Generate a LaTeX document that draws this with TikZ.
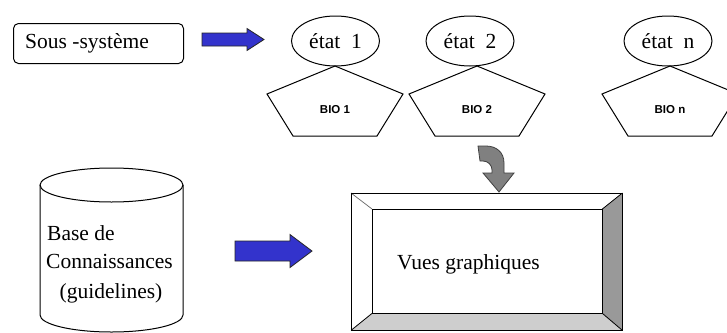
\documentclass[tikz,border=0pt]{standalone}
\usepackage{fontspec}
\setmainfont{Liberation Serif}
\newfontfamily\biofont{Liberation Sans}
\usetikzlibrary{shapes.geometric,calc}
\definecolor{arrowblue}{RGB}{51,51,204}
\definecolor{arrowgray}{RGB}{128,128,128}
\definecolor{bevelright}{RGB}{153,153,153}
\definecolor{bevelbottom}{RGB}{206,206,206}
\begin{document}
\begin{tikzpicture}[x=1pt,y=-1pt, line join=miter,
  txt/.style={font=\fontsize{21.5}{24}\selectfont, inner sep=0pt},
  state/.style={ellipse, draw, line width=1pt, minimum width=88pt, minimum height=50pt, inner sep=0pt, font=\fontsize{21.5}{24}\selectfont},
  penta/.style={draw, line width=1pt, fill=white},
  bio/.style={font=\biofont\bfseries\fontsize{11.5}{13}\selectfont, inner sep=0pt},
  blockarrow/.style={fill=arrowblue, draw=black!85, line width=0.8pt},
  bendarrow/.style={fill=arrowgray, draw=black!75, line width=0.8pt},
  frame/.style={draw, line width=1pt},
]
\useasboundingbox (0,0) rectangle (727,332);
\fill[white] (0,0) rectangle (727,332);

% Sous-systeme box
\node[draw, rounded corners=5pt, line width=1pt, minimum width=170pt, minimum height=40pt, anchor=north west, inner sep=0pt] (sous) at (13,23) {};
\node[txt, anchor=west] (soustxt) at (25,43) {Sous -syst\`eme};

% blue arrow 1
\coordinate (a1s) at (202,39.5);
\coordinate (a1e) at (264,39.5);
\draw[blockarrow] ($(a1s)+(0,-6.5)$) -- (247,33) -- (247,28.5) -- (a1e) -- (247,50.5) -- (247,46) -- ($(a1s)+(0,6.5)$) -- cycle;

% pentagons
\foreach \cx/\nm in {335/p1, 477/p2, 670/pn}{
  \draw[penta] (\cx,66) -- (\cx+68,94) -- (\cx+42,136) -- (\cx-42,136) -- (\cx-68,94) -- cycle;
}
\node[bio] (bio1) at (335,110) {BIO 1};
\node[bio] (bio2) at (477,110) {BIO 2};
\node[bio] (bion) at (670,110) {BIO n};

% states
\node[state] (e1) at (335.5,41) {\'etat\hspace{0.5em}1};
\node[state] (e2) at (470,41) {\'etat\hspace{0.5em}2};
\node[state] (en) at (668,41) {\'etat\hspace{0.5em}n};

% bent gray arrow
\draw[bendarrow] (492,173) -- (483,173) -- (499,192) -- (514,173) -- (504,173) -- (504,163)
  .. controls (504,152) and (496,146) .. (486,146) -- (478,146) -- (480,161) -- (483,161)
  .. controls (488,161) and (492,165) .. (492,170) -- cycle;

% bevel frame
\node[minimum width=271pt, minimum height=137pt, anchor=north west, inner sep=0pt] (outer) at (351,193) {};
\node[minimum width=230pt, minimum height=104pt, anchor=north west, inner sep=0pt] (inner) at (372,209) {};
\fill[white] (outer.north west) -- (outer.north east) -- (inner.north east) -- (inner.north west) -- cycle;
\fill[bevelright] (outer.north east) -- (outer.south east) -- (inner.south east) -- (inner.north east) -- cycle;
\fill[bevelbottom] (outer.south west) -- (outer.south east) -- (inner.south east) -- (inner.south west) -- cycle;
\draw[line width=0.7pt, black!60] (outer.north west) -- (inner.north west);
\draw[line width=0.8pt] (outer.north east) -- (inner.north east);
\draw[line width=0.8pt] (outer.south east) -- (inner.south east);
\draw[line width=0.8pt] (outer.south west) -- (inner.south west);
\draw[frame] (outer.north west) rectangle (outer.south east);
\draw[frame] (inner.north west) rectangle (inner.south east);
\node[txt, anchor=west] (vues) at (397,264) {Vues graphiques};

% cylinder
\draw[line width=1pt, fill=white] (40,185) -- (40,315) arc[start angle=180, end angle=360, x radius=71.5pt, y radius=17pt] -- (183,185);
\draw[line width=1pt] (111.5,185) ellipse [x radius=71.5pt, y radius=17pt];
\node[txt, anchor=west] (base) at (47,233) {Base de};
\node[txt, anchor=west] (conn) at (46,261) {Connaissances};
\node[txt] (guide) at (111,293) {(guidelines)};

% blue arrow 2
\coordinate (a2s) at (235,251);
\coordinate (a2e) at (312,251);
\draw[blockarrow] ($(a2s)+(0,-10)$) -- (290,241) -- (290,234.5) -- (a2e) -- (290,267.5) -- (290,261) -- ($(a2s)+(0,10)$) -- cycle;
\end{tikzpicture}
\end{document}
